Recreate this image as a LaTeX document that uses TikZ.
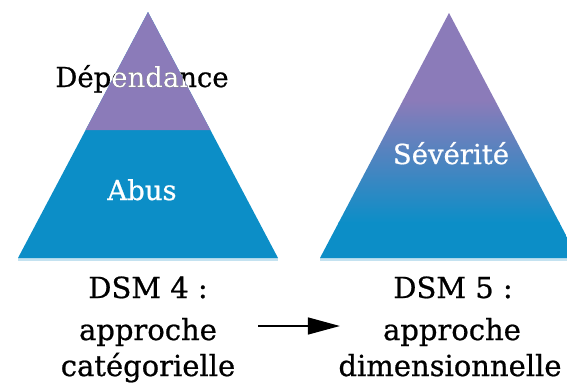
\documentclass[tikz,border=0pt]{standalone}
\usepackage{fontspec}
\setmainfont{DejaVu Serif}[FakeBold=0.7]
\usetikzlibrary{arrows.meta,positioning}
\definecolor{pyrmauve}{RGB}{139,123,185}
\definecolor{pyrbleu}{RGB}{12,142,199}
\definecolor{pyrbord}{RGB}{196,226,240}

\tikzset{
  etiq/.style={anchor=base, inner sep=0pt, font=\fontsize{27.5}{32}\selectfont},
  legende/.style={anchor=base, inner sep=0pt, font=\fontsize{29}{34}\selectfont},
  fleche/.style={-{Triangle[length=32pt,width=17pt]}, line width=1.4pt},
}

\begin{document}
\begin{tikzpicture}[x=1pt,y=-1pt]
  \useasboundingbox (0,0) rectangle (567,383);
  \clip (0,0) rectangle (567,383);

  % Pyramide DSM 4
  \coordinate (sA) at (148,12);
  \coordinate (gA) at (18,258);
  \coordinate (dA) at (278,258);
  \draw[pyrbord, line width=2.5pt] (18,259.5) -- (278,259.5);
  \fill[pyrbleu] (sA) -- (gA) -- (dA) -- cycle;
  \fill[pyrmauve] (sA) -- (85.6,130) -- (210.4,130) -- cycle;

  % Pyramide DSM 5
  \coordinate (sB) at (449,13);
  \coordinate (gB) at (320,258);
  \coordinate (dB) at (578,258);
  \draw[pyrbord, line width=2.5pt] (320,259.5) -- (578,259.5);
  \begin{scope}
    \clip (sB) -- (gB) -- (dB) -- cycle;
    \fill[pyrmauve] (300,0) rectangle (600,101);
    \shade[top color=pyrmauve, bottom color=pyrbleu] (300,100) rectangle (600,223);
    \fill[pyrbleu] (300,222) rectangle (600,260);
  \end{scope}

  % Etiquettes
  \node[etiq] (dep) at (142,87) {Dépendance};
  \begin{scope}
    \clip (sA) -- (gA) -- (dA) -- cycle;
    \node[etiq, white] at (dep.base) {Dépendance};
  \end{scope}
  \node[etiq, white] (abus) at (142,200) {Abus};
  \node[etiq, white] (sev) at (451,164) {Sévérité};

  % Legendes
  \node[legende] (dsmA) at (148,298) {DSM 4 :};
  \node[legende] (appA) at (148,340) {approche};
  \node[legende] (catA) at (148,376) {catégorielle};
  \node[legende] (dsmB) at (453,298) {DSM 5 :};
  \node[legende] (appB) at (452,340) {approche};
  \node[legende] (dimB) at (450,376) {dimensionnelle};

  \draw[fleche, shorten <=41pt, shorten >=43pt] ([yshift=6pt]appA.east) -- ([yshift=6pt]appB.west);
\end{tikzpicture}
\end{document}
